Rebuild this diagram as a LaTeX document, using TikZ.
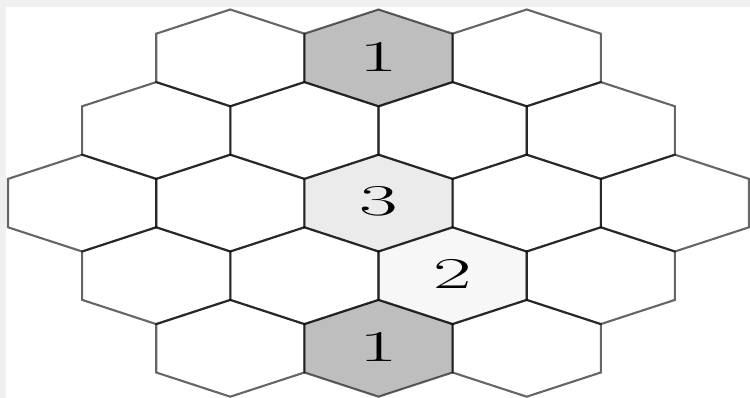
\documentclass[tikz,border=0pt]{standalone}
\usepackage{graphicx}
\definecolor{framegray}{HTML}{F0F0F0}
\definecolor{mine}{HTML}{BEBEBE}
\definecolor{hintthree}{HTML}{EBEBEB}
\definecolor{hinttwo}{HTML}{F7F7F7}
\begin{document}
\begin{tikzpicture}[x=1pt, y=1pt,
  hexline/.style={draw=black, draw opacity=0.6, line width=2.1pt, line join=miter},
  digit/.style={inner sep=0pt, font=\fontsize{44}{44}\selectfont},
  hexcell/.pic={
    \path[#1] (0,48.4) -- (74.1,24.2) -- (74.1,-24.2) -- (0,-48.4)
      -- (-74.1,-24.2) -- (-74.1,24.2) -- cycle;}]
  \useasboundingbox (0,0) rectangle (750,398);
  % frame of the picture
  \fill[framegray] (0,0) rectangle (750,398);
  \fill[white] (6,0) rectangle (750,391);
  % shaded cells first
  \pic at (378.5,340.1) {hexcell={fill=mine}};
  \pic at (378.5,194.9) {hexcell={fill=hintthree}};
  \pic at (452.6,122.3) {hexcell={fill=hinttwo}};
  \pic at (378.5,49.7)  {hexcell={fill=mine}};
  % row r holds k cells: y = 340.1-72.6r, first x = 82.1+74.1(5-k)
  \foreach \r/\k in {0/3,1/4,2/5,3/4,4/3} {
    \foreach \i in {1,...,\k} {
      \pgfmathsetmacro{\cx}{82.1+74.1*(5-\k)+148.2*(\i-1)}
      \pgfmathsetmacro{\cy}{340.1-72.6*\r}
      \pic at (\cx,\cy) {hexcell=hexline};
    }
  }
  % numbers
  \node[digit] (topone) at (378.5,341.5) {\scalebox{1.9}[1]{1}};
  \node[digit] (three)  at (378.5,196.5) {\scalebox{1.9}[1]{3}};
  \node[digit] (two)    at (452.6,124.5) {\scalebox{1.9}[1]{2}};
  \node[digit] (botone) at (378.5,51)    {\scalebox{1.9}[1]{1}};
\end{tikzpicture}
\end{document}
